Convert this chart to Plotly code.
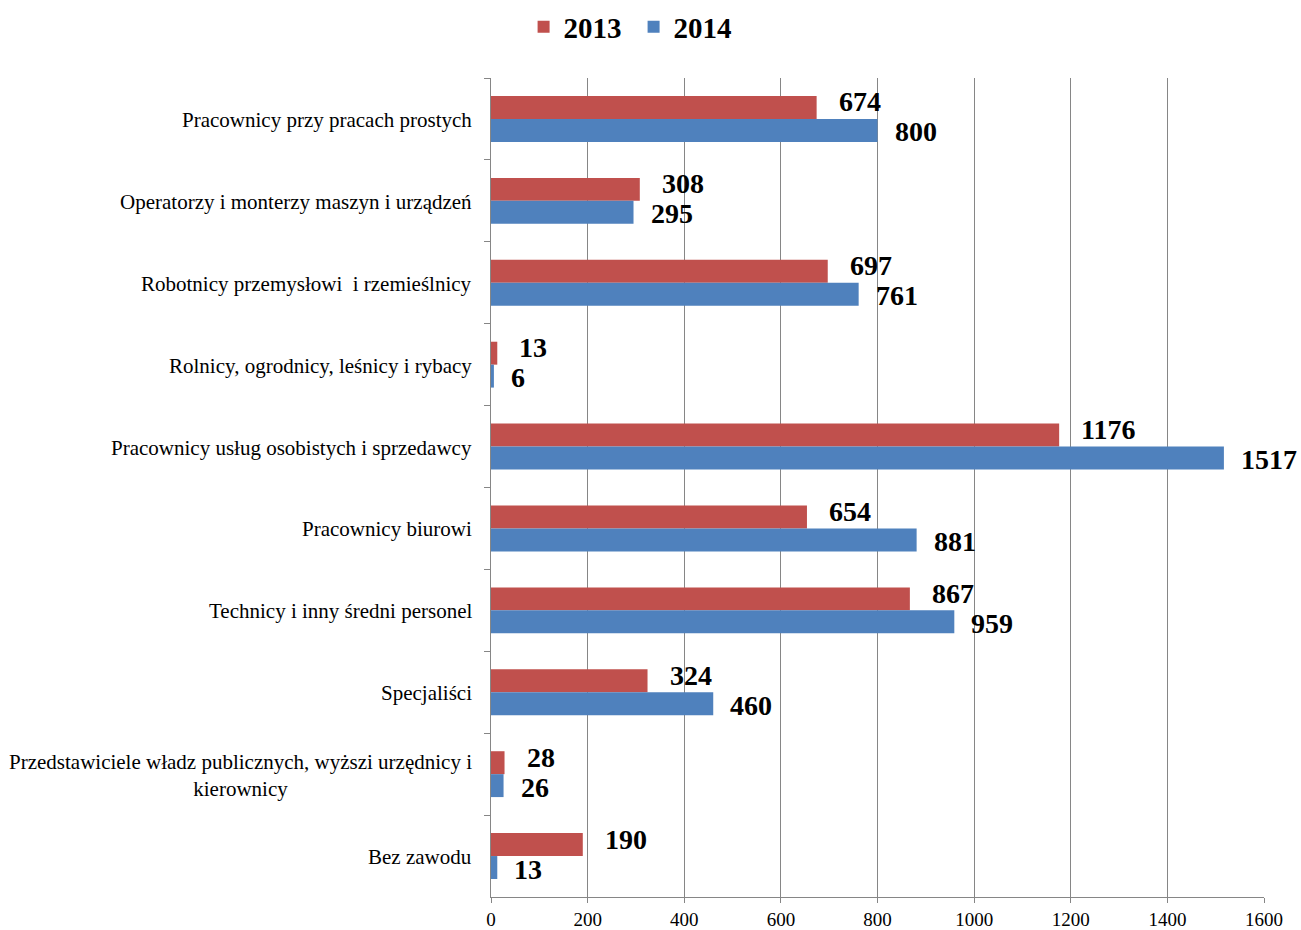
import plotly.graph_objects as go

categories = [
    "Pracownicy przy pracach prostych",
    "Operatorzy i monterzy maszyn i urządzeń",
    "Robotnicy przemysłowi  i rzemieślnicy",
    "Rolnicy, ogrodnicy, leśnicy i rybacy",
    "Pracownicy usług osobistych i sprzedawcy",
    "Pracownicy biurowi",
    "Technicy i inny średni personel",
    "Specjaliści",
    "Przedstawiciele władz publicznych, wyższi urzędnicy i<br>kierownicy",
    "Bez zawodu",
]
values_2013 = [674, 308, 697, 13, 1176, 654, 867, 324, 28, 190]
values_2014 = [800, 295, 761, 6, 1517, 881, 959, 460, 26, 13]
x_ticks = [0, 200, 400, 600, 800, 1000, 1200, 1400, 1600]

RED = "#C0504D"
BLUE = "#4F81BD"
GRID = "#868686"
FONT = "Liberation Serif"

fig = go.Figure()
fig.add_trace(go.Bar(name="2013", y=categories, x=values_2013, orientation="h",
                     marker=dict(color=RED, line=dict(width=0))))
fig.add_trace(go.Bar(name="2014", y=categories, x=values_2014, orientation="h",
                     marker=dict(color=BLUE, line=dict(width=0))))

annotations = []
for cat, v in zip(categories, values_2013):
    annotations.append(dict(x=v, y=cat, xref="x", yref="y", text=f"<b>{v}</b>",
                            showarrow=False, xanchor="left", yanchor="middle",
                            xshift=20, yshift=17,
                            font=dict(family=FONT, size=28, color="black")))
for cat, v in zip(categories, values_2014):
    annotations.append(dict(x=v, y=cat, xref="x", yref="y", text=f"<b>{v}</b>",
                            showarrow=False, xanchor="left", yanchor="middle",
                            xshift=15, yshift=-13,
                            font=dict(family=FONT, size=28, color="black")))
for cat in categories:
    annotations.append(dict(x=0, y=cat, xref="x", yref="y", text=cat,
                            showarrow=False, xanchor="right", yanchor="middle",
                            align="center", xshift=-17, yshift=-1,
                            font=dict(family=FONT, size=21, color="black")))

fig.update_layout(
    width=1301, height=930,
    margin=dict(l=491, r=37, t=78, b=33, autoexpand=False),
    paper_bgcolor="white", plot_bgcolor="white",
    barmode="group", bargap=0.44, bargroupgap=0,
    font=dict(family=FONT, color="black"),
    showlegend=True,
    legend=dict(orientation="h", xref="container", yref="container",
                x=0.487, y=1 - 27 / 930, xanchor="center", yanchor="middle",
                font=dict(family=FONT, size=29, color="black", weight="bold"),
                itemwidth=30, entrywidth=65, bgcolor="rgba(0,0,0,0)"),
    annotations=annotations,
)
fig.update_xaxes(range=[0, 1600], tickvals=x_ticks, ticktext=[str(t) for t in x_ticks],
                 showgrid=True, gridcolor=GRID, gridwidth=1.3,
                 showline=True, linecolor=GRID, linewidth=1.3,
                 ticks="outside", ticklen=5, tickcolor=GRID, tickwidth=1.3,
                 tickfont=dict(family=FONT, size=19, color="black"),
                 zeroline=False, fixedrange=True, automargin=False)
fig.update_yaxes(autorange="reversed", showticklabels=False,
                 showline=True, linecolor=GRID, linewidth=1.3,
                 ticks="outside", tickson="boundaries", ticklen=6, tickcolor=GRID, tickwidth=1.3,
                 showgrid=False, zeroline=False, automargin=False, fixedrange=True)

fig.write_html("out.html", config={"displayModeBar": False},
               post_script="document.body.style.margin='0px';")
